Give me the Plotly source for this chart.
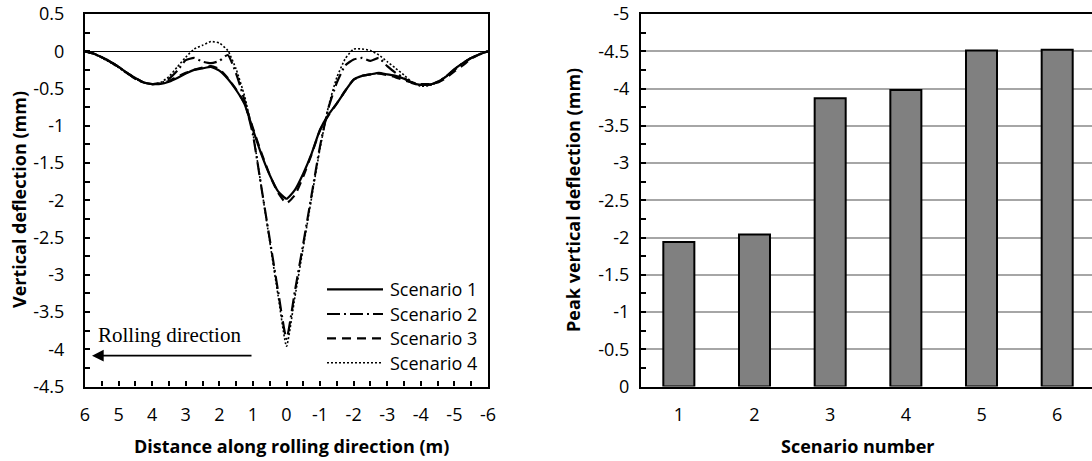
import plotly.graph_objects as go

W, H = 1092, 461

# ---- data -------------------------------------------------------------
distance_m = [6.0, 5.75, 5.5, 5.25, 5.0, 4.75, 4.5, 4.25, 4.0, 3.75, 3.5, 3.25,
              3.0, 2.75, 2.5, 2.25, 2.0, 1.75, 1.5, 1.25, 1.0, 0.75, 0.5, 0.25,
              0.0, -0.25, -0.5, -0.75, -1.0, -1.25, -1.5, -1.75, -2.0, -2.25,
              -2.5, -2.75, -3.0, -3.25, -3.5, -3.75, -4.0, -4.25, -4.5, -4.75,
              -5.0, -5.25, -5.5, -5.75, -6.0]

scenario_1 = [0.00, -0.03, -0.08, -0.14, -0.21, -0.29, -0.36, -0.42, -0.44, -0.44,
              -0.41, -0.36, -0.30, -0.25, -0.23, -0.21, -0.26, -0.37, -0.52, -0.71,
              -1.05, -1.38, -1.66, -1.88, -1.98, -1.86, -1.64, -1.37, -1.05, -0.85,
              -0.70, -0.53, -0.38, -0.33, -0.31, -0.29, -0.31, -0.33, -0.37, -0.43,
              -0.45, -0.45, -0.41, -0.34, -0.24, -0.16, -0.09, -0.04, 0.00]

scenario_2 = [0.00, -0.03, -0.08, -0.14, -0.21, -0.29, -0.37, -0.42, -0.44, -0.43,
              -0.37, -0.26, -0.12, -0.09, -0.14, -0.16, -0.13, -0.05, -0.30, -0.66,
              -1.12, -1.82, -2.52, -3.22, -3.86, -3.22, -2.58, -1.92, -1.27, -0.76,
              -0.42, -0.19, -0.11, -0.09, -0.13, -0.09, -0.20, -0.29, -0.36, -0.42,
              -0.45, -0.45, -0.41, -0.34, -0.25, -0.16, -0.09, -0.04, 0.00]

scenario_3 = [0.00, -0.03, -0.08, -0.14, -0.21, -0.29, -0.36, -0.42, -0.44, -0.43,
              -0.40, -0.34, -0.29, -0.25, -0.22, -0.20, -0.24, -0.36, -0.51, -0.70,
              -1.03, -1.36, -1.66, -1.90, -2.04, -1.93, -1.68, -1.38, -1.06, -0.86,
              -0.70, -0.53, -0.38, -0.33, -0.31, -0.30, -0.32, -0.35, -0.39, -0.42,
              -0.44, -0.44, -0.42, -0.36, -0.27, -0.19, -0.10, -0.04, 0.00]

scenario_4 = [0.00, -0.03, -0.09, -0.15, -0.22, -0.30, -0.37, -0.42, -0.44, -0.42,
              -0.34, -0.21, -0.08, 0.03, 0.08, 0.13, 0.11, 0.01, -0.24, -0.60,
              -1.10, -1.82, -2.55, -3.28, -3.96, -3.30, -2.63, -1.96, -1.30, -0.74,
              -0.35, -0.10, 0.03, 0.03, 0.01, -0.05, -0.14, -0.23, -0.32, -0.42,
              -0.47, -0.46, -0.42, -0.34, -0.24, -0.16, -0.09, -0.04, 0.00]

scenario_names = ["Scenario 1", "Scenario 2", "Scenario 3", "Scenario 4"]

scenario_numbers = [1, 2, 3, 4, 5, 6]
peak_deflection = [-1.94, -2.04, -3.87, -3.98, -4.51, -4.52]

left_x_ticks = [6, 5, 4, 3, 2, 1, 0, -1, -2, -3, -4, -5, -6]
left_y_ticks = [0.5, 0, -0.5, -1, -1.5, -2, -2.5, -3, -3.5, -4, -4.5]
right_y_ticks = [0, -0.5, -1, -1.5, -2, -2.5, -3, -3.5, -4, -4.5, -5]

# ---- helpers ------------------------------------------------------------
def fx(p):
    return p / W


def fy(p):
    return 1 - p / H


def labels(vals):
    return [f"{v:g}" for v in vals]


FONT = "Open Sans"
TICKFONT = dict(family=FONT, size=18, color="black")
TITLEFONT = dict(family=FONT, size=18, color="black")

line_styles = [
    dict(dash="solid", width=2.2),
    dict(dash="13px,4px,2px,4px", width=2.2),
    dict(dash="9px,6px", width=2.2),
    dict(dash="2px,2px", width=1.6),
]

fig = go.Figure()

for name, vals, st in zip(scenario_names,
                          [scenario_1, scenario_2, scenario_3, scenario_4],
                          line_styles):
    fig.add_trace(go.Scatter(
        x=distance_m, y=vals, mode="lines", name=name, showlegend=False,
        line=dict(color="black", width=st["width"], dash=st["dash"],
                  shape="spline", smoothing=0.5),
        xaxis="x", yaxis="y",
    ))

fig.add_trace(go.Bar(
    x=scenario_numbers, y=peak_deflection, width=0.41, showlegend=False,
    marker=dict(color="#808080", line=dict(color="black", width=2)),
    xaxis="x2", yaxis="y2",
))

y_dom = [fy(386.5), fy(14)]

fig.update_layout(
    width=W, height=H,
    margin=dict(l=0, r=0, t=0, b=0),
    paper_bgcolor="white", plot_bgcolor="white",
    template="none",
    font=dict(family=FONT, color="black"),
    xaxis=dict(
        domain=[fx(85), fx(488)], anchor="y", range=[6, -6],
        tickmode="array", tickvals=left_x_ticks, ticktext=labels(left_x_ticks),
        ticks="inside", ticklen=5, tickwidth=1.5, tickcolor="black",
        minor=dict(tickmode="linear", tick0=0, dtick=0.5, ticks="inside",
                   ticklen=5, tickwidth=1.5, tickcolor="black", showgrid=False),
        showline=True, linecolor="black", linewidth=2.2, mirror=True,
        showgrid=False, zeroline=False, tickfont=TICKFONT,
        ticklabelstandoff=11,
    ),
    yaxis=dict(
        domain=y_dom, anchor="x", range=[-4.5, 0.5],
        tickmode="array", tickvals=left_y_ticks, ticktext=labels(left_y_ticks),
        ticks="inside", ticklen=5, tickwidth=1.5, tickcolor="black",
        minor=dict(tickmode="linear", tick0=0, dtick=0.25, ticks="inside",
                   ticklen=5, tickwidth=1.5, tickcolor="black", showgrid=False),
        showline=True, linecolor="black", linewidth=2.2, mirror=True,
        showgrid=False, zeroline=True, zerolinecolor="black", zerolinewidth=1.2,
        tickfont=TICKFONT, ticklabelstandoff=15,
    ),
    xaxis2=dict(
        domain=[fx(641), 1.0], anchor="y2", range=[0.5, 6.46],
        tickmode="array", tickvals=scenario_numbers,
        ticktext=labels(scenario_numbers), ticks="",
        showline=True, linecolor="black", linewidth=2.2, mirror=True,
        showgrid=False, zeroline=False, tickfont=TICKFONT,
        ticklabelstandoff=11,
    ),
    yaxis2=dict(
        domain=y_dom, anchor="x2", range=[0, -5],
        tickmode="array", tickvals=right_y_ticks, ticktext=labels(right_y_ticks),
        ticks="inside", ticklen=5, tickwidth=1.5, tickcolor="black",
        minor=dict(tickmode="linear", tick0=0, dtick=0.25, ticks="inside",
                   ticklen=5, tickwidth=1.5, tickcolor="black", showgrid=False),
        showline=True, linecolor="black", linewidth=2.2, mirror=False,
        showgrid=True, gridcolor="#a6a6a6", gridwidth=1.5,
        zeroline=False, tickfont=TICKFONT, ticklabelstandoff=6,
    ),
)

annotations = [
    dict(text="<b>Vertical deflection (mm)</b>", x=fx(19), y=fy(200),
         textangle=-90, font=TITLEFONT),
    dict(text="<b>Peak vertical deflection (mm)</b>", x=fx(573), y=fy(200),
         textangle=-90, font=TITLEFONT),
    dict(text="<b>Distance along rolling direction (m)</b>", x=fx(291),
         y=fy(446), font=TITLEFONT),
    dict(text="<b>Scenario number</b>", x=fx(858), y=fy(446), font=TITLEFONT),
    dict(text="Rolling direction", x=fx(96), y=fy(335), xanchor="left",
         font=dict(family="Liberation Serif", size=21, color="black")),
]
for a in annotations:
    a.setdefault("xanchor", "center")
    a.update(xref="paper", yref="paper", yanchor="middle", showarrow=False)

# rolling-direction arrow
annotations.append(dict(
    text="", x=fx(92), y=fy(355.7), xref="paper", yref="paper",
    ax=161, ay=0, showarrow=True, arrowhead=2, arrowsize=1.3,
    arrowwidth=1.8, arrowcolor="black", standoff=0,
))

# legend for the deflection curves
legend_rows = [289.3, 314, 338.3, 362.7]
shapes = []
for name, st, row in zip(scenario_names, line_styles, legend_rows):
    shapes.append(dict(
        type="line", xref="paper", yref="paper",
        x0=fx(327), x1=fx(383), y0=fy(row), y1=fy(row),
        line=dict(color="black", width=st["width"], dash=st["dash"]),
    ))
    annotations.append(dict(
        text=name, x=fx(388), y=fy(row), xref="paper", yref="paper",
        xanchor="left", yanchor="middle", showarrow=False,
        font=dict(family=FONT, size=18, color="black"),
    ))

fig.update_layout(annotations=annotations, shapes=shapes)

fig.write_html("out.html")
